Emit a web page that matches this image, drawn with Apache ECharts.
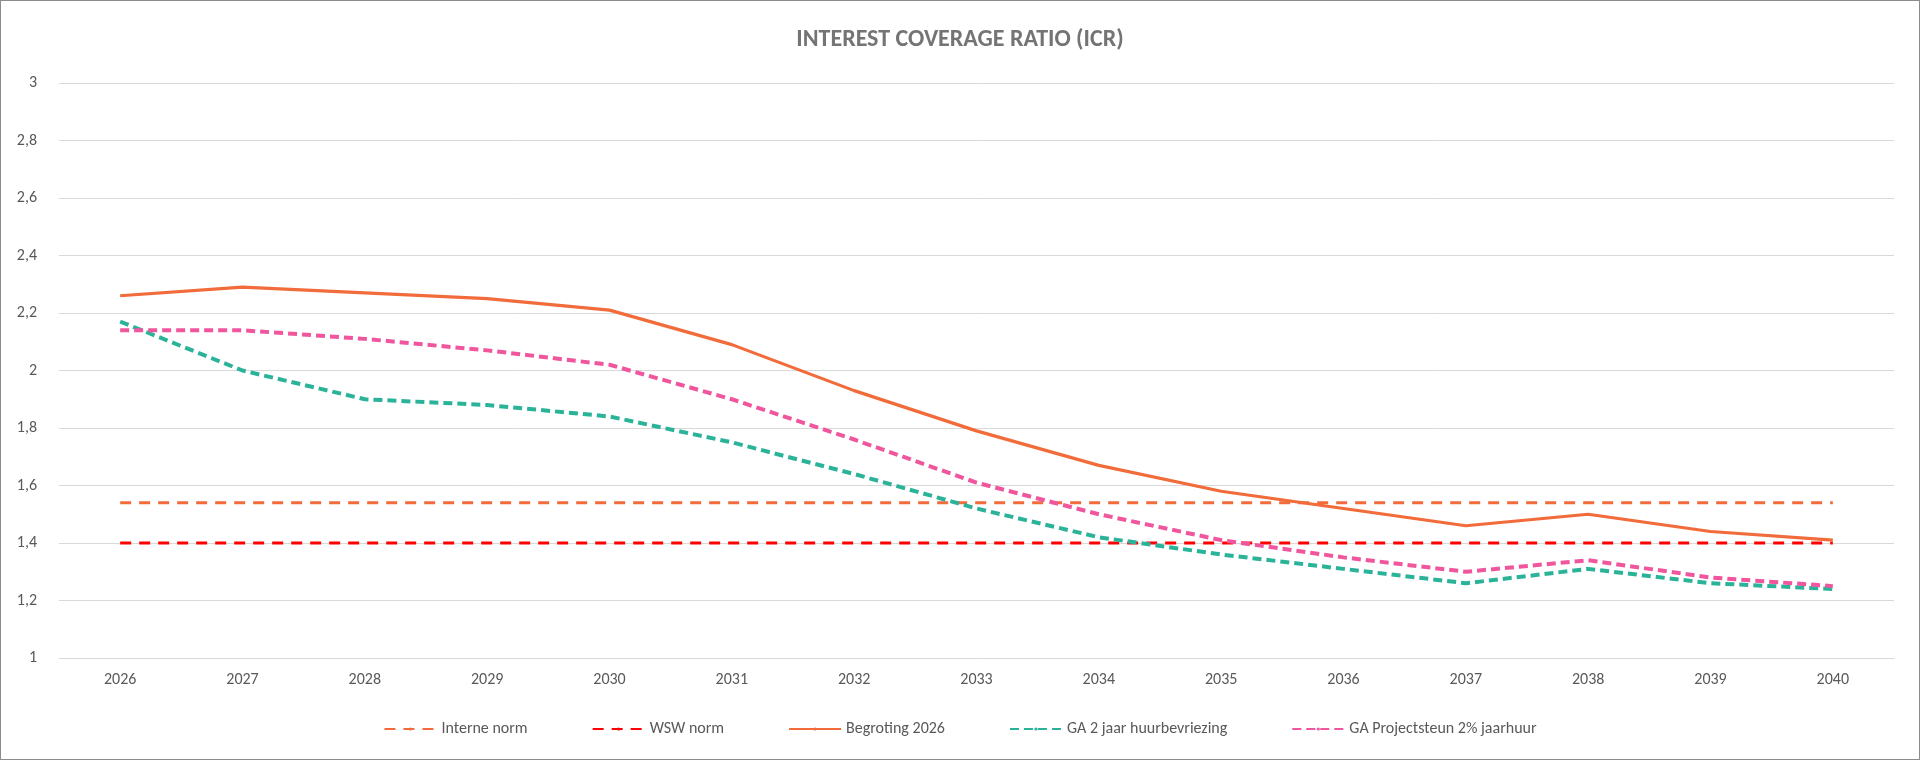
<!DOCTYPE html>
<html><head><meta charset="utf-8">
<script src="https://cdn.jsdelivr.net/npm/echarts@6/dist/echarts.min.js"></script>
<style>html,body{margin:0;padding:0;background:#fff}#c{width:1918px;height:758px;border:1px solid #8c8c8c}</style>
</head><body><div id="c"></div>
<script>
const years = ['2026','2027','2028','2029','2030','2031','2032','2033','2034','2035','2036','2037','2038','2039','2040'];
const interneNorm = [1.54,1.54,1.54,1.54,1.54,1.54,1.54,1.54,1.54,1.54,1.54,1.54,1.54,1.54,1.54];
const wswNorm = [1.4,1.4,1.4,1.4,1.4,1.4,1.4,1.4,1.4,1.4,1.4,1.4,1.4,1.4,1.4];
const begroting = [2.26,2.29,2.27,2.25,2.21,2.09,1.93,1.79,1.67,1.58,1.52,1.46,1.50,1.44,1.41];
const gaHuurbevriezing = [2.17,2.00,1.90,1.88,1.84,1.75,1.64,1.52,1.42,1.36,1.31,1.26,1.31,1.26,1.24];
const gaProjectsteun = [2.14,2.14,2.11,2.07,2.02,1.90,1.76,1.61,1.50,1.41,1.35,1.30,1.34,1.28,1.25];
const chart = echarts.init(document.getElementById('c'));
const font = 'Calibri, Carlito, "Open Sans", sans-serif';
function s(name, data, color, type, w){
  return {name, type:'line', data, symbol:'none', lineStyle:{color, width:w, type}, itemStyle:{color}};
}
chart.setOption({
  animation:false,
  textStyle:{fontFamily:font},
  title:{text:'INTEREST COVERAGE RATIO (ICR)', left:'center', top:22, textStyle:{fontSize:24, fontWeight:'bold', color:'#747474', fontFamily:font}},
  grid:{left:58, right:25, top:82, bottom:101, containLabel:false},
  legend:{bottom:17, itemWidth:52, itemHeight:4, itemGap:64, textStyle:{fontSize:16, color:'#595959'},
    data:['Interne norm','WSW norm','Begroting 2026','GA 2 jaar huurbevriezing','GA Projectsteun 2% jaarhuur']},
  xAxis:{type:'category', data:years, boundaryGap:true,
    axisLine:{lineStyle:{color:'#d9d9d9'}}, axisTick:{show:false},
    axisLabel:{color:'#595959', fontSize:16, margin:14}},
  yAxis:{type:'value', min:1, max:3, interval:0.2,
    axisLine:{show:false}, axisTick:{show:false},
    splitLine:{lineStyle:{color:'#d9d9d9'}},
    axisLabel:{color:'#595959', fontSize:16, margin:22, formatter:v=>String(Math.round(v*10)/10).replace('.',',')}},
  series:[
    s('Interne norm', interneNorm, '#F26B3A', [11,8], 2.8),
    s('WSW norm', wswNorm, '#FF0000', [11,8], 3.2),
    s('Begroting 2026', begroting, '#F26B3A', 'solid', 3.2),
    s('GA 2 jaar huurbevriezing', gaHuurbevriezing, '#2BB39A', [9,5], 4),
    s('GA Projectsteun 2% jaarhuur', gaProjectsteun, '#F0569E', [9,5], 4)
  ]
});
</script></body></html>
